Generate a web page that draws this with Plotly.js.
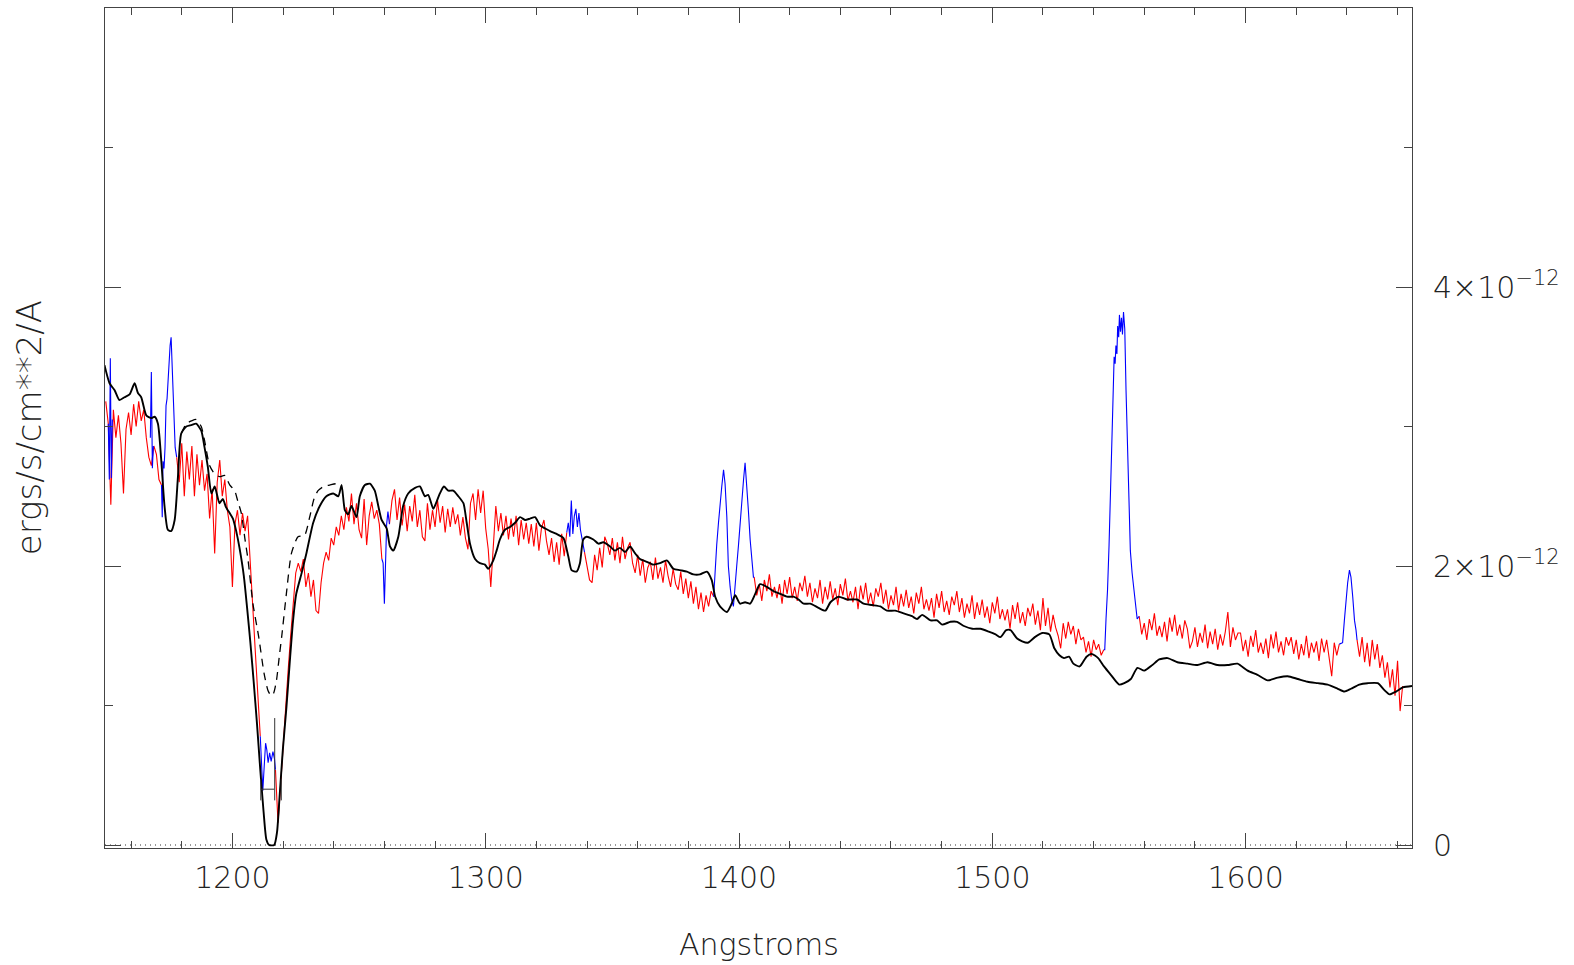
<!DOCTYPE html>
<html>
<head>
<meta charset="utf-8">
<script src="https://cdn.plot.ly/plotly-3.0.1.min.js"></script>
<style>
html,body{margin:0;padding:0;background:#fff;}
#chart{width:1574px;height:965px;}
</style>
</head>
<body>
<div id="chart"></div>
<script>
// ---- Observed spectrum (flux in units of 1e-12 erg/s/cm^2/A), 1 A sampling, red parts ----
const STEP = 1;
const red1Start = 1150;
const red1Flux = [3.18,3.02,2.44,3.12,2.92,3.08,2.88,2.52,2.98,3.10,
  2.94,3.16,3.00,3.18,3.04,3.12,2.92,2.78,2.72,2.86,
  2.80,2.62,2.58];
const red2Start = 1178;
const red2Flux = [2.78,2.60,2.88,2.50,2.82,2.62,2.86,2.50,2.80,2.58,
  2.76,2.54,2.66,2.34,2.55,2.09,2.60,2.76,2.50,2.62,
  2.40,2.28,1.85,2.30,2.40,2.22,2.38,2.25,2.36,1.99,
  1.72,1.40,1.05,0.78];
const red3Start = 1217;
const red3Flux = [0.54,0.16,0.42,0.72,1.02,1.25,1.50,1.76,1.95,2.02,
  1.96,2.05,1.85,1.95,1.78,1.90,1.68,1.66,1.88,2.02,
  2.10,2.04,2.20,2.15,2.28,2.22,2.36,2.26,2.42,2.32,
  2.52,2.30,2.45,2.26,2.20,2.48,2.15,2.36,2.46,2.34,
  2.40,2.30,2.05];
const red4Start = 1262;
const red4Flux = [2.30,2.47,2.55,2.33,2.49,2.29,2.44,2.25,2.43,2.32,
  2.51,2.28,2.40,2.21,2.18,2.45,2.26,2.40,2.28,2.47,
  2.31,2.43,2.24,2.41,2.28,2.42,2.30,2.37,2.22,2.35,
  2.20,2.12,2.45,2.52,2.33,2.55,2.38,2.54,2.27,2.12,
  1.85,2.12,2.43,2.25,2.38,2.22,2.36,2.19,2.34,2.21,
  2.36,2.15,2.33,2.19,2.31,2.16,2.30,2.14,2.31,2.11,
  2.27,2.33,2.18,2.08,2.20,2.03,2.17,2.01,2.23,2.07,2.24];
const red5Start = 1339;
const red5Flux = [2.10,1.99,1.90,1.88,2.08,1.97,2.13,1.99,2.21,2.16,
  2.08,2.20,2.04,2.17,2.02,2.21,2.05,2.13,2.17,2.02,
  1.95,2.08,1.93,2.05,1.88,1.99,2.03,1.90,2.06,1.91,
  1.99,1.88,2.04,1.93,1.85,1.98,1.87,1.83,1.96,1.80,
  1.91,1.77,1.89,1.73,1.85,1.69,1.81,1.67,1.79,1.71,
  1.82,1.78];
const red6Start = 1406;
const red6Flux = [1.92,1.79,1.87,1.75,1.90,1.82,1.94,1.78,1.85,1.77,
  1.87,1.73,1.90,1.80,1.92,1.77,1.85,1.75,1.88,1.82,
  1.93,1.78,1.88,1.74,1.84,1.77,1.90,1.73,1.85,1.76,
  1.89,1.76,1.84,1.72,1.87,1.79,1.91,1.75,1.82,1.74,
  1.85,1.69,1.86,1.76,1.88,1.73,1.81,1.71,1.84,1.78,
  1.88,1.73,1.83,1.69,1.79,1.72,1.85,1.68,1.80,1.71,
  1.83,1.70,1.78,1.66,1.81,1.73,1.85,1.69,1.76,1.68,
  1.77,1.63,1.80,1.70,1.82,1.67,1.75,1.65,1.78,1.72,
  1.82,1.67,1.77,1.63,1.73,1.66,1.79,1.62,1.74,1.65,
  1.76,1.63,1.71,1.59,1.74,1.66,1.78,1.62,1.69,1.61,
  1.69,1.55,1.72,1.62,1.74,1.59,1.67,1.57,1.70,1.64,
  1.73,1.58,1.68,1.54,1.77,1.57,1.70,1.53,1.65,1.56,
  1.50,1.41,1.59,1.48,1.60,1.51,1.57,1.44,1.55,1.47,
  1.49,1.38,1.46,1.35,1.47,1.40,1.44,1.36,1.40];
const red7Start = 1558;
const red7Flux = [1.64,1.51,1.59,1.47,1.62,1.54,1.66,1.50,1.57,1.49,
  1.60,1.46,1.63,1.53,1.65,1.50,1.58,1.48,1.61,1.55,
  1.41,1.46,1.56,1.42,1.52,1.45,1.58,1.41,1.53,1.44,
  1.55,1.40,1.51,1.43,1.53,1.67,1.42,1.56,1.47,1.52,
  1.52,1.39,1.47,1.35,1.50,1.42,1.54,1.38,1.45,1.37,
  1.48,1.34,1.51,1.41,1.53,1.38,1.46,1.36,1.49,1.43,
  1.49,1.37,1.47,1.33,1.44,1.36,1.50,1.34,1.45,1.38,
  1.46,1.32,1.48,1.38,1.47,1.35,1.21,1.45,1.36,1.44];
const red8Start = 1644;
const red8Flux = [1.47,1.35,1.49,1.31,1.45,1.28,1.47,1.33,1.44,1.27,
  1.36,1.20,1.31,1.13,1.26,1.07,1.32,0.96,1.14];

// ---- Observed spectrum, blue (masked emission / geocoronal) parts ----
const blue1Wave = [1151.0,1151.4,1151.8,1152.2,1152.6];
const blue1Flux = [3.02,2.62,3.49,2.63,3.05];
const blue2Wave = [1167.6,1168.0,1168.4,1168.8];
const blue2Flux = [2.92,3.39,2.70,2.86];
const blue3Wave = [1172.0,1172.3,1172.6,1173.0,1173.4,1173.8,1174.2,1174.6,1175.0,1175.4,1175.8,1176.2,1176.6,1177.0,1177.4,1178.0];
const blue3Flux = [2.58,2.35,2.75,2.70,2.85,3.15,3.20,3.35,3.48,3.58,3.64,3.42,3.20,3.05,2.85,2.78];
const blue4Wave = [1211.0,1211.4,1212.0,1212.7,1213.1,1213.6,1214.1,1214.7,1215.3,1216.0,1216.6,1217.0];
const blue4Flux = [0.78,0.63,0.39,0.61,0.73,0.68,0.59,0.66,0.60,0.67,0.62,0.54];
const blue5Wave = [1259.0,1259.5,1260.0,1260.4,1260.9,1261.4,1262.0];
const blue5Flux = [2.05,2.02,1.73,2.05,2.30,2.39,2.30];
const blue6Wave = [1332.0,1332.6,1333.2,1333.8,1334.4,1335.0,1335.6,1336.2,1336.8,1337.4,1338.0,1339.0];
const blue6Flux = [2.24,2.31,2.21,2.47,2.23,2.36,2.41,2.28,2.38,2.26,2.20,2.10];
const blue7Wave = [1390.0,1390.6,1391.2,1391.9,1392.5,1393.2,1393.9,1394.5,1395.2,1395.8,1396.5,1397.1,1397.8,1398.5,1399.1,1399.8,1400.4,1401.1,1401.8,1402.4,1403.1,1403.7,1404.4,1405.1,1405.7,1406.0];
const blue7Flux = [1.78,2.00,2.15,2.31,2.45,2.57,2.69,2.59,2.35,2.00,1.85,1.76,1.71,1.90,2.00,2.15,2.31,2.50,2.62,2.74,2.59,2.40,2.19,2.02,1.92,1.92];
const blue8Wave = [1544.0,1544.4,1544.9,1545.5,1546.1,1546.8,1547.4,1548.1,1548.5,1548.8,1549.2,1549.5,1549.9,1550.2,1550.6,1551.0,1551.4,1551.8,1552.3,1552.8,1553.4,1554.0,1554.5,1555.2,1555.9,1556.6,1557.2,1558.0];
const blue8Flux = [1.40,1.40,1.62,1.83,2.15,2.54,3.02,3.50,3.45,3.58,3.52,3.72,3.64,3.80,3.68,3.78,3.66,3.82,3.70,3.26,2.78,2.43,2.11,1.95,1.83,1.68,1.62,1.64];
const blue9Wave = [1637.0,1638.3,1639.0,1639.7,1640.3,1641.0,1641.6,1642.3,1643.0,1643.6,1644.0];
const blue9Flux = [1.44,1.45,1.61,1.78,1.88,1.97,1.92,1.78,1.61,1.54,1.47];

// ---- Model spectrum (solid) ----
const modelWave = [1149.5,1151.5,1153.5,1155.4,1157.4,1159.4,1161.4,1162.7,1164.0,1166.0,1168.0,1169.3,1170.6,1171.9,1173.2,1174.5,1175.8,1177.2,1178.5,1179.8,
  1181.8,1183.8,1185.7,1187.7,1189.0,1190.3,1191.7,1193.0,1194.9,1196.2,1197.5,1198.9,1200.2,1201.5,1202.8,1204.5,1205.8,1207.1,1208.4,1209.7,
  1211.0,1212.3,1213.4,1214.5,1216.5,1217.6,1218.6,1219.9,1221.3,1222.6,1223.9,1225.2,1227.2,1229.2,1231.9,1234.5,1237.1,1239.8,1241.8,1243.1,
  1244.4,1245.7,1247.0,1249.0,1250.3,1252.3,1254.3,1256.2,1257.6,1258.9,1260.9,1262.2,1263.5,1265.5,1267.4,1269.4,1272.1,1274.0,1276.0,1277.3,
  1279.3,1280.6,1281.9,1283.5,1285.2,1287.2,1289.2,1291.2,1292.5,1293.8,1295.8,1297.7,1299.7,1301.0,1303.0,1304.3,1305.6,1307.6,1309.6,1311.6,
  1313.6,1315.5,1317.5,1319.5,1321.5,1323.4,1325.4,1328.0,1330.7,1332.6,1333.9,1335.9,1337.2,1338.5,1339.8,1342.5,1344.5,1346.4,1349.1,1351.0,
  1353.0,1355.0,1357.0,1359.0,1360.9,1363.6,1366.2,1368.8,1371.5,1374.1,1376.7,1379.4,1382.0,1384.6,1387.3,1389.2,1390.6,1392.5,1395.2,1397.1,
  1398.5,1400.4,1402.4,1404.4,1406.4,1408.3,1411.0,1413.6,1416.3,1418.9,1421.5,1423.5,1425.5,1428.1,1431.4,1434.1,1436.1,1439.3,1442.6,1446.6,
  1449.2,1452.5,1455.8,1458.4,1461.7,1465.0,1468.3,1470.3,1472.3,1475.6,1478.2,1480.2,1483.5,1486.1,1488.8,1492.1,1495.3,1498.6,1501.3,1503.2,
  1505.5,1507.2,1509.8,1511.8,1514.0,1516.8,1519.7,1522.5,1524.5,1526.5,1528.3,1530.3,1532.0,1534.5,1537.2,1539.2,1541.8,1544.1,1546.8,1550.1,
  1552.1,1554.7,1557.3,1560.0,1563.2,1565.9,1569.2,1573.1,1577.1,1581.0,1585.0,1588.9,1592.9,1596.8,1600.8,1604.7,1608.7,1612.7,1616.6,1620.6,
  1624.5,1628.5,1632.4,1636.4,1639.0,1641.6,1644.9,1648.2,1652.2,1654.8,1656.8,1659.4,1662.1,1665.7];
const modelFlux = [3.44,3.31,3.26,3.19,3.21,3.23,3.31,3.24,3.21,3.08,3.06,3.07,3.02,2.76,2.43,2.26,2.25,2.33,2.64,2.95,
  3.00,3.01,3.02,2.97,2.85,2.71,2.52,2.57,2.45,2.48,2.42,2.38,2.34,2.25,2.13,1.93,1.70,1.45,1.17,0.87,
  0.54,0.24,0.04,0.00,0.00,0.09,0.34,0.68,0.98,1.30,1.60,1.80,1.94,2.09,2.31,2.43,2.50,2.52,2.50,2.58,
  2.40,2.37,2.43,2.35,2.50,2.58,2.59,2.54,2.43,2.33,2.27,2.14,2.11,2.21,2.43,2.52,2.56,2.57,2.50,2.51,
  2.41,2.46,2.52,2.57,2.54,2.54,2.50,2.45,2.31,2.16,2.05,2.02,2.01,1.98,2.04,2.11,2.19,2.26,2.28,2.31,
  2.35,2.33,2.34,2.35,2.29,2.27,2.25,2.23,2.20,2.07,1.97,1.96,2.02,2.19,2.21,2.19,2.16,2.17,2.14,2.11,
  2.13,2.10,2.14,2.09,2.05,2.03,2.01,2.02,2.04,1.98,1.97,1.96,1.94,1.94,1.96,1.90,1.78,1.71,1.67,1.73,
  1.79,1.73,1.74,1.73,1.80,1.87,1.85,1.82,1.80,1.78,1.78,1.76,1.73,1.73,1.70,1.68,1.74,1.78,1.76,1.76,
  1.73,1.72,1.71,1.68,1.68,1.66,1.64,1.62,1.65,1.61,1.61,1.58,1.60,1.60,1.57,1.55,1.55,1.53,1.51,1.49,
  1.54,1.54,1.48,1.46,1.45,1.49,1.52,1.51,1.41,1.36,1.34,1.35,1.30,1.28,1.35,1.37,1.34,1.28,1.22,1.15,
  1.16,1.19,1.27,1.25,1.29,1.33,1.34,1.31,1.30,1.29,1.31,1.29,1.29,1.30,1.25,1.22,1.18,1.20,1.21,1.19,
  1.17,1.16,1.15,1.12,1.10,1.12,1.15,1.16,1.16,1.11,1.08,1.10,1.13,1.14];

// ---- Model without damped Lyman-alpha core (dashed) ----
const dashWave = [1179.8,1181.8,1183.8,1185.7,1187.7,1189.0,1191.0,1193.0,1195.0,1196.9,1199.0,1200.9,1202.2,1203.5,1204.9,1206.2,1208.1,1210.4,1212.5,1214.0,
  1215.3,1216.3,1217.4,1218.5,1219.5,1221.3,1223.3,1225.9,1228.5,1230.5,1232.2,1233.8,1236.0,1238.4,1241.0,1243.1];
const dashFlux = [2.95,3.02,3.04,3.05,3.00,2.90,2.72,2.66,2.64,2.65,2.58,2.54,2.46,2.38,2.20,2.04,1.73,1.49,1.23,1.11,
  1.07,1.09,1.18,1.35,1.50,1.80,2.09,2.21,2.22,2.35,2.48,2.54,2.57,2.58,2.59,2.58];

// ---- Markers near Lyman-alpha (error bar and ticks) ----
const barWave = [1211.2,1211.2,null,1211.2,1216.5,null,1216.7,1216.7,null,1219.3,1219.3];
const barFlux = [0.32,0.47,null,0.40,0.40,null,0.32,0.91,null,0.32,0.47];

// ---- Axis settings ----
const xRange = [1149.7, 1665.7];
const yRange = [-0.0215, 6.0];
const yTickVals = [0, 2, 4];
const yTickText = ['0', '2×10<sup>−12</sup>', '4×10<sup>−12</sup>'];
const yMinorVals = [1, 3, 5];

// ---- Build traces ----
function joinSegments(segs) {
  const x = [], y = [];
  segs.forEach((s, k) => {
    s[0].forEach((v, i) => { x.push(v); y.push(s[1][i]); });
    if (k < segs.length - 1) { x.push(null); y.push(null); }
  });
  return {x, y};
}
function grid(start, flux) { return flux.map((_, i) => start + i * STEP); }

const redSegs = [[red1Start, red1Flux],[red2Start, red2Flux],[red3Start, red3Flux],[red4Start, red4Flux],
  [red5Start, red5Flux],[red6Start, red6Flux],[red7Start, red7Flux],[red8Start, red8Flux]]
  .map(s => [grid(s[0], s[1]), s[1]]);
const red = joinSegments(redSegs);
const blue = joinSegments([[blue1Wave,blue1Flux],[blue2Wave,blue2Flux],[blue3Wave,blue3Flux],[blue4Wave,blue4Flux],
  [blue5Wave,blue5Flux],[blue6Wave,blue6Flux],[blue7Wave,blue7Flux],[blue8Wave,blue8Flux],[blue9Wave,blue9Flux]]);

const FONT = {family: 'DejaVu Sans, Liberation Sans, sans-serif', size: 30, color: '#222', weight: 200};
const YTITLE_FONT = {family: 'DejaVu Sans, Liberation Sans, sans-serif', size: 34, color: '#222', weight: 200};

const traces = [
  {x: xRange, y: [0, 0], mode: 'lines', line: {color: '#333', width: 1, dash: '1px,4px'}, hoverinfo: 'skip'},
  {x: red.x, y: red.y, mode: 'lines', line: {color: '#ff0000', width: 1.1}, connectgaps: false},
  {x: blue.x, y: blue.y, mode: 'lines', line: {color: '#0000ff', width: 1.1}, connectgaps: false},
  {x: modelWave, y: modelFlux, mode: 'lines', line: {color: '#000', width: 1.9, shape: 'spline', smoothing: 0.6}},
  {x: dashWave, y: dashFlux, mode: 'lines', line: {color: '#000', width: 1.3, dash: '8px,6px', shape: 'spline', smoothing: 0.6}},
  {x: barWave, y: barFlux, mode: 'lines', line: {color: '#333', width: 1}, connectgaps: false}
];

const layout = {
  width: 1574, height: 965,
  margin: {l: 105, r: 162, t: 8, b: 117},
  paper_bgcolor: '#fff', plot_bgcolor: '#fff',
  showlegend: false,
  font: FONT,
  xaxis: {
    range: xRange, showgrid: false, zeroline: false,
    showline: true, linecolor: '#444', linewidth: 1, mirror: 'ticks',
    ticks: 'inside', ticklen: 15, tickwidth: 1, tickcolor: '#444',
    tickmode: 'linear', tick0: 1200, dtick: 100,
    minor: {ticks: 'inside', ticklen: 7, tickcolor: '#444', dtick: 20, tick0: 1200, showgrid: false},
    tickfont: FONT, ticklabelstandoff: 3
  },
  yaxis: {
    range: yRange, side: 'right', showgrid: false, zeroline: false,
    showline: true, linecolor: '#444', linewidth: 1, mirror: 'ticks',
    ticks: 'inside', ticklen: 16, tickwidth: 1, tickcolor: '#444',
    tickmode: 'array', tickvals: yTickVals, ticktext: yTickText,
    minor: {ticks: 'inside', ticklen: 8, tickcolor: '#444', tickmode: 'array', tickvals: yMinorVals, showgrid: false},
    tickfont: FONT, ticklabelstandoff: 14
  },
  annotations: [
    {text: 'Angstroms', xref: 'paper', yref: 'paper', x: 0.5, y: -0.1143, xanchor: 'center', yanchor: 'middle', showarrow: false, font: FONT},
    {text: 'ergs/s/cm**2/A', xref: 'paper', yref: 'paper', x: -0.058, y: 0.5, xanchor: 'center', yanchor: 'middle', textangle: -90, showarrow: false, font: YTITLE_FONT}
  ]
};

Plotly.newPlot('chart', traces, layout, {staticPlot: true, displayModeBar: false});
</script>
</body>
</html>
